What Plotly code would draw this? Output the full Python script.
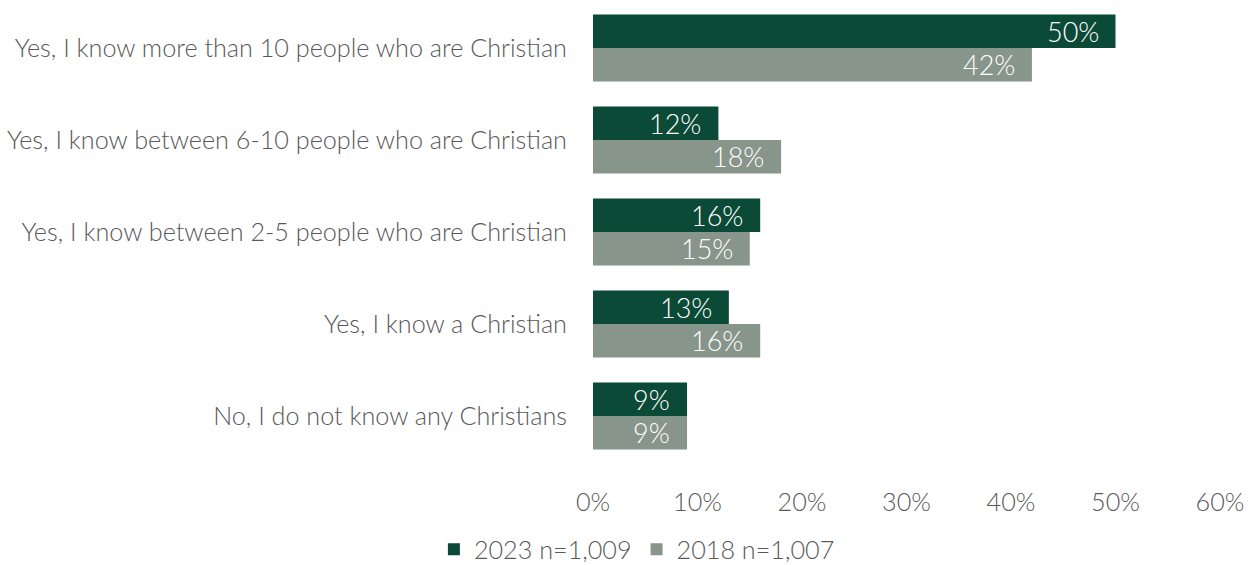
import plotly.graph_objects as go

categories = [
    "Yes, I know more than 10 people who are Christian",
    "Yes, I know between 6-10 people who are Christian",
    "Yes, I know between 2-5 people who are Christian",
    "Yes, I know a Christian",
    "No, I do not know any Christians",
]
values_2023 = [50, 12, 16, 13, 9]
values_2018 = [42, 18, 15, 16, 9]
series_names = ["2023 n=1,009", "2018 n=1,007"]
tick_values = [0, 10, 20, 30, 40, 50, 60]
tick_labels = ["0%", "10%", "20%", "30%", "40%", "50%", "60%"]

DARK = "#0B4A36"
LIGHT = "#87958B"
TEXT = "#595959"
FONT = "Lato"
WEIGHT = 300
SIZE = 25.2

fig = go.Figure()
for name, vals, color in [(series_names[0], values_2023, DARK),
                          (series_names[1], values_2018, LIGHT)]:
    fig.add_trace(go.Bar(
        name=name,
        y=categories,
        x=vals,
        orientation="h",
        marker=dict(color=color, line=dict(width=0)),
    ))

# value labels, right-aligned inside the end of each bar
for vals, offset in [(values_2023, -0.183), (values_2018, 0.183)]:
    for cat_i, v in enumerate(vals):
        fig.add_annotation(
            x=v, y=cat_i + offset, xref="x", yref="y",
            text=f"{v}%", showarrow=False,
            xanchor="right", yanchor="middle", xshift=-15,
            font=dict(family=FONT, size=27, color="white", weight=WEIGHT),
        )

fig.update_layout(
    barmode="group",
    bargap=0.27,
    bargroupgap=0.0,
    width=1253, height=565,
    margin=dict(l=593, r=33, t=2, b=103, autoexpand=False),
    paper_bgcolor="white",
    plot_bgcolor="white",
    font=dict(family=FONT, size=SIZE, color=TEXT, weight=WEIGHT),
    showlegend=True,
    legend=dict(
        orientation="h",
        x=0.07, xanchor="center",
        y=-0.19, yanchor="middle",
        font=dict(family=FONT, size=SIZE, color=TEXT, weight=WEIGHT),
        traceorder="normal",
        itemwidth=30,
    ),
    xaxis=dict(
        range=[0, 60],
        tickvals=tick_values,
        ticktext=tick_labels,
        showgrid=False,
        zeroline=False,
        showline=False,
        automargin=False,
        ticks="outside",
        ticklen=18,
        tickcolor="rgba(0,0,0,0)",
        tickfont=dict(family=FONT, size=SIZE, color=TEXT, weight=WEIGHT),
    ),
    yaxis=dict(
        autorange="reversed",
        showgrid=False,
        zeroline=False,
        showline=False,
        automargin=False,
        ticks="outside",
        ticklen=20,
        tickcolor="rgba(0,0,0,0)",
        tickfont=dict(family=FONT, size=SIZE, color=TEXT, weight=WEIGHT),
    ),
)

fig.write_html("out.html")
